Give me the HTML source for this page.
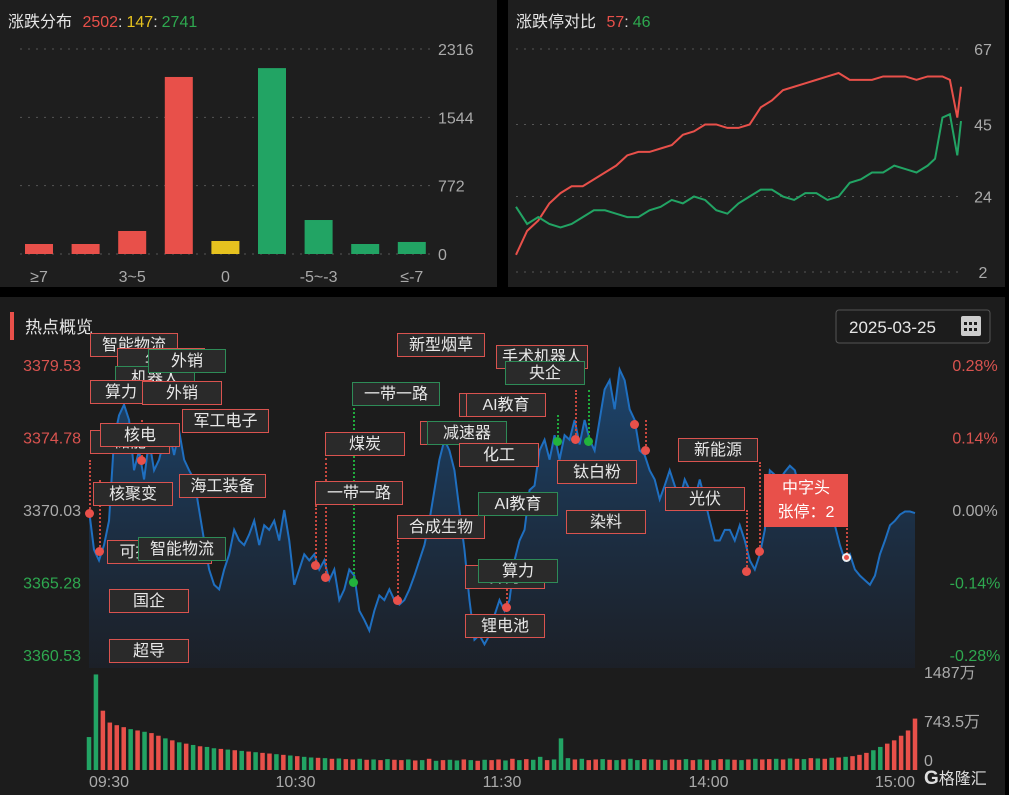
<!DOCTYPE html>
<html><head><meta charset="utf-8"><style>
html,body{margin:0;padding:0;background:#000;width:1009px;height:795px;overflow:hidden;font-family:"Liberation Sans","Noto Sans CJK SC",sans-serif}
.tag{position:absolute;height:24px;line-height:24px;background:#2a2a2a;color:#e8e8e8;font-size:16px;text-align:center;box-sizing:border-box;border:1.5px solid #d9534f;white-space:nowrap;overflow:hidden}
.g{border-color:#2e8b57}
.vl{position:absolute;width:0;border-left:2px dotted #c9483f}
.vg{border-left-color:#1faa3c}
.dot{position:absolute;width:9px;height:9px;border-radius:50%;background:#e8504a;margin:-4.5px 0 0 -4.5px}
</style></head><body>
<svg id="s" width="1009" height="795" style="position:absolute;left:0;top:0">
<defs><linearGradient id="ag" x1="0" y1="0" x2="0" y2="1"><stop offset="0" stop-color="#1d4a78" stop-opacity="0.9"/><stop offset="1" stop-color="#1b2330" stop-opacity="0.6"/></linearGradient></defs>
<rect x="0" y="0" width="497" height="287" fill="#1e1e1e"/>
<rect x="508" y="0" width="497" height="287" fill="#1e1e1e"/>
<rect x="0" y="297" width="1005" height="498" fill="#1c1c1c"/>
<text x="8" y="27" font-size="16" fill="#e6e6e6">涨跌分布 <tspan fill="#e8504a" dx="6">2502</tspan><tspan fill="#ddd">:</tspan><tspan fill="#e6c21f" dx="4">147</tspan><tspan fill="#ddd">:</tspan><tspan fill="#2ea84f" dx="4">2741</tspan></text>
<text x="516" y="27" font-size="16" fill="#e6e6e6">涨跌停对比 <tspan fill="#e8504a" dx="6">57</tspan><tspan fill="#ddd">:</tspan><tspan fill="#2ea84f" dx="4">46</tspan></text>
<g id="bars"></g><g id="lim"></g><g id="main"></g><g id="vol"></g>
<rect x="10" y="312" width="4" height="28" fill="#e8504a"/>
<text x="25" y="333" font-size="17" fill="#e6e6e6">热点概览</text>
<rect x="836" y="310" width="154" height="33" rx="3" fill="#1c1c1c" stroke="#555"/>
<text x="849" y="333" font-size="17" fill="#e6e6e6">2025-03-25</text>
<g fill="#ccc"><rect x="961" y="316" width="20" height="20" rx="2"/><rect x="964" y="322" width="3" height="3" fill="#1c1c1c"/><rect x="969" y="322" width="3" height="3" fill="#1c1c1c"/><rect x="974" y="322" width="3" height="3" fill="#1c1c1c"/><rect x="964" y="328" width="3" height="3" fill="#1c1c1c"/><rect x="969" y="328" width="3" height="3" fill="#1c1c1c"/><rect x="974" y="328" width="3" height="3" fill="#1c1c1c"/></g>
<text x="924" y="784" font-size="19" font-weight="bold" fill="#ddd">G<tspan font-size="16" font-weight="normal">格隆汇</tspan></text>
</svg>
<div id="tags"></div>
<script>
const NS="http://www.w3.org/2000/svg";
function mk(p,t,a){const e=document.createElementNS(NS,t);for(const k in a)e.setAttribute(k,a[k]);p.appendChild(e);return e;}
// ---- distribution bars
const distCats=["≥7","5~7","3~5","0~3","0","-3~0","-5~-3","-7~-5","≤-7"];
const distVals=[113,113,260,2000,147,2100,384,113,136];
const distTicks=[0,772,1544,2316];
const distColors=["#e8504a","#e8504a","#e8504a","#e8504a","#e6c21f","#22a464","#22a464","#22a464","#22a464"];
const gB=document.getElementById("bars");
const by=v=>254-v*(205/2316), bx=i=>39+i*46.6;
distTicks.forEach(t=>{const l=mk(gB,"line",{x1:20,x2:432,y1:by(t),y2:by(t),stroke:"#555","stroke-dasharray":"2 6"});

const tx=mk(gB,"text",{x:438,y:by(t)+6,"font-size":16,fill:"#aaa"});tx.textContent=t;
});
distVals.forEach((v,i)=>{const r=mk(gB,"rect",{x:bx(i)-14,y:by(v),width:28,height:254-by(v),fill:distColors[i]});

if(i%2==0){const t=mk(gB,"text",{x:bx(i),y:282,"font-size":16,fill:"#aaa","text-anchor":"middle"});t.textContent=distCats[i];
}});
// ---- limit up/down lines
const limTicks=[2,24,45,67];
const limTime=[0,6,12,18,24,30,36,42,48,54,60,66,72,78,84,90,96,102,108,114,120,126,132,138,144,150,156,162,168,174,180,186,192,198,204,210,216,222,226,230,234,238,240];
const limUp=[7,14,17,22,25,27,27,29,31,33,36,37,37,38,39,42,43,45,45,44,44,45,50,52,55,56,57,58,59,60,58,58,58,59,59,59,58,59,59,59,58,47,56];
const limDown=[21,16,18,16,15,16,18,20,20,19,18,18,20,21,23,22,24,23,20,19,22,24,26,26,24,23,25,25,23,24,28,29,31,31,33,32,31,33,35,47,48,36,46];
const gL=document.getElementById("lim");
const lx=t=>516+t*(445/240), ly=v=>272-(v-2)*(223/65);
limTicks.forEach(t=>{const l=mk(gL,"line",{x1:516,x2:960,y1:ly(t),y2:ly(t),stroke:"#555","stroke-dasharray":"2 6"});

const tx=mk(gL,"text",{x:983,y:ly(t)+6,"font-size":16,fill:"#aaa","text-anchor":"middle"});tx.textContent=t;
});
[[limUp,"#e8504a","limit-up-line"],[limDown,"#22a464","limit-down-line"]].forEach(([a,c,n])=>{
const p=mk(gL,"polyline",{points:a.map((v,i)=>lx(limTime[i])+","+ly(v)).join(" "),fill:"none",stroke:c,"stroke-width":2});
});
// ---- main index line (change in points vs prev close 3370.03)
const prevClose=3370.03;
const priceTicks=[3379.53,3374.78,3370.03,3365.28,3360.53];
const pctTicks=["0.28%","0.14%","0.00%","-0.14%","-0.28%"];
const timeLabels=["09:30","10:30","11:30","14:00","15:00"];
const chg=[0,-2.6,-3.3,-2.3,-0.7,4.6,6.2,6.9,5.9,2.6,3.9,2.0,4.6,2.6,3.3,4.6,5.2,3.6,5.2,3.3,2.6,2.0,0,-2.0,-3.9,-4.9,-5.2,-3.9,-2.9,-1.3,-2.0,-2.3,-1.6,-0.7,-2.3,-1.0,-1.3,-0.7,-2.0,0,-2.0,-4.9,-3.9,-2.9,-3.3,-2.9,-3.9,-3.3,-4.6,-3.9,-5.9,-5.2,-3.9,-4.3,-6.6,-7.2,-7.9,-6.6,-5.6,-5.9,-5.2,-5.9,-6.2,-5.9,-5.2,-4.3,-3.3,-2.3,-0.7,1.3,3.3,4.6,3.9,2.6,0,-2.6,-5.9,-8.5,-8.2,-8.8,-8.2,-6.9,-5.9,-6.6,-5.9,-3.3,-2.0,-1.3,1.3,1.6,3.9,4.6,3.3,4.9,3.3,4.9,4.6,5.9,4.3,5.9,4.6,3.9,5.9,7.9,8.5,6.6,9.2,8.5,6.6,5.9,3.9,3.6,2.6,2.0,0.7,1.6,2.6,1.6,0.7,2.0,1.3,0.7,2.0,0.7,-0.7,-2.0,-2.0,-1.3,-1.3,-2.0,-1.0,-2.0,-3.3,-3.9,-2.9,-1.3,2.6,2.3,2.0,2.5,2.9,2.6,1.3,1.0,0.3,0,0.7,1.0,0,-1.0,-2.3,-3.3,-2.9,-3.9,-4.3,-4.6,-4.9,-4.3,-2.9,-2.0,-1.0,-0.7,-0.3,-0.1,-0.1,-0.2];
const gM=document.getElementById("main");
const mx=t=>89+t*(826/240), my=p=>510-(p-prevClose)*(72.5/4.75);
priceTicks.forEach((p,i)=>{const col=i<2?"#d9534f":i==2?"#aaa":"#2ea84f";
const a=mk(gM,"text",{x:81,y:my(p)+6,"font-size":16,fill:col,"text-anchor":"end"});a.textContent=p.toFixed(2);

const b=mk(gM,"text",{x:975,y:my(p)+6,"font-size":16,fill:col,"text-anchor":"middle"});b.textContent=pctTicks[i];
});
const pts=chg.map((c,i)=>[mx(i*240/(chg.length-1)),my(prevClose+c)]);
const area=mk(gM,"path",{d:"M"+pts.map(p=>p.join(",")).join("L")+"L"+mx(240)+",668L89,668Z",fill:"url(#ag)"});

const pl=mk(gM,"polyline",{points:pts.map(p=>p.join(",")).join(" "),fill:"none",stroke:"#1f6fc0","stroke-width":2});

timeLabels.forEach((t,i)=>{const x=mx(i*60);const tx=mk(gM,"text",{x:x,y:787,"font-size":16,fill:"#aaa","text-anchor":i==0?"start":i==4?"end":"middle"});tx.textContent=t;
});
// ---- volume (万)
const volTicks=[0,743.5,1487];
const volVals=[500,1450,900,720,680,650,620,600,580,560,520,480,450,420,400,380,360,350,330,320,310,300,290,280,270,260,250,240,230,220,210,200,190,185,180,170,175,165,160,170,155,160,150,165,155,150,160,145,150,170,140,150,155,145,160,150,140,155,150,160,145,170,150,165,155,200,150,160,480,180,160,170,150,160,165,155,150,160,170,150,165,160,155,150,160,155,165,150,160,155,150,165,160,155,150,160,170,160,165,170,160,175,170,165,180,175,170,185,190,200,210,230,260,300,350,400,450,520,600,780];
const volDir=[-1,-1,1,1,1,1,-1,1,-1,1,1,-1,1,-1,1,-1,1,-1,-1,1,-1,1,-1,1,-1,1,1,-1,1,-1,1,-1,-1,1,-1,1,-1,1,1,-1,1,-1,1,-1,1,1,-1,1,-1,1,-1,1,-1,-1,1,-1,1,-1,1,1,-1,1,-1,1,-1,-1,1,-1,-1,-1,1,-1,1,1,-1,1,-1,1,-1,-1,1,-1,1,-1,1,1,-1,1,-1,1,-1,1,-1,1,-1,1,-1,1,1,-1,1,-1,1,-1,1,-1,1,-1,1,-1,1,1,1,-1,-1,1,1,1,1,1,1,1];
const gV=document.getElementById("vol");
const vy=v=>770-v*(98/1487), vx=i=>89+i*(826/(volVals.length-1));
volTicks.forEach(t=>{const tx=mk(gV,"text",{x:924,y:vy(t)+(t==0?-4:6),"font-size":16,fill:"#aaa"});tx.textContent=t==0?"0":t+"万";
});
volVals.forEach((v,i)=>{const r=mk(gV,"rect",{x:vx(i)-2.25,y:vy(v),width:4.5,height:770-vy(v),fill:volDir[i]>0?"#e8504a":"#22a464"});
});
// ---- hotspot tags
const tagsEl=document.getElementById("tags");
const lines=[[89,460,513,0],[99,480,551,0],[141,420,460,0],[315,505,565,0],[325,458,577,0],[353,408,582,1],[397,540,600,0],[506,585,607,0],[557,415,441,1],[575,390,439,0],[588,390,441,1],[634,420,424,0],[645,420,450,0],[746,510,571,0],[759,462,551,0],[846,513,557,0]];
lines.forEach(([x,y1,y2,g])=>{const d=document.createElement("div");d.className="vl"+(g?" vg":"");d.style.cssText=`left:${x}px;top:${y1}px;height:${y2-y1}px`;
tagsEl.appendChild(d);
const o=document.createElement("div");o.className="dot";o.style.cssText=`left:${x}px;top:${y2}px;`+(g?"background:#22b33c":"")+(x==846?";border:2px solid #eee;box-sizing:border-box":"");
tagsEl.appendChild(o);});
const T=[[90,333,88,"智能物流",0],[117,348,88,"年报",0],[115,366,80,"机器人",1],[90,380,62,"算力",0],[148,349,78,"外销",1],[142,381,80,"外销",0],[182,409,87,"军工电子",0],[90,430,80,"储能",0],[100,423,80,"核电",0],[179,474,87,"海工装备",0],[93,482,80,"核聚变",0],[107,540,105,"可控核聚变",0],[138,537,88,"智能物流",1],[109,589,80,"国企",0],[109,639,80,"超导",0],[397,333,88,"新型烟草",0],[352,382,88,"一带一路",1],[325,432,80,"煤炭",0],[315,481,88,"一带一路",0],[397,515,88,"合成生物",0],[459,393,80,"AI教育",0],[466,393,80,"AI教育",0],[420,421,80,"减速器",0],[427,421,80,"减速器",1],[459,443,80,"化工",0],[478,492,80,"AI教育",1],[465,565,80,"算力",0],[478,559,80,"算力",1],[465,614,80,"锂电池",0],[496,345,92,"手术机器人",0],[505,361,80,"央企",1],[557,460,80,"钛白粉",0],[566,510,80,"染料",0],[678,438,80,"新能源",0],[665,487,80,"光伏",0]];
T.forEach(([x,y,w,t,g])=>{const d=document.createElement("div");d.className="tag"+(g?" g":"");d.style.cssText=`left:${x}px;top:${y}px;width:${w}px`;d.textContent=t;
tagsEl.appendChild(d);});
const tip=document.createElement("div");tip.style.cssText="position:absolute;left:764px;top:474px;width:84px;height:53px;background:#e8504a;color:#fff;font-size:16px;line-height:24px;text-align:center;padding-top:3px;box-sizing:border-box";
tip.innerHTML="中字头<br>张停：2";
tagsEl.appendChild(tip);
</script>
</body></html>
